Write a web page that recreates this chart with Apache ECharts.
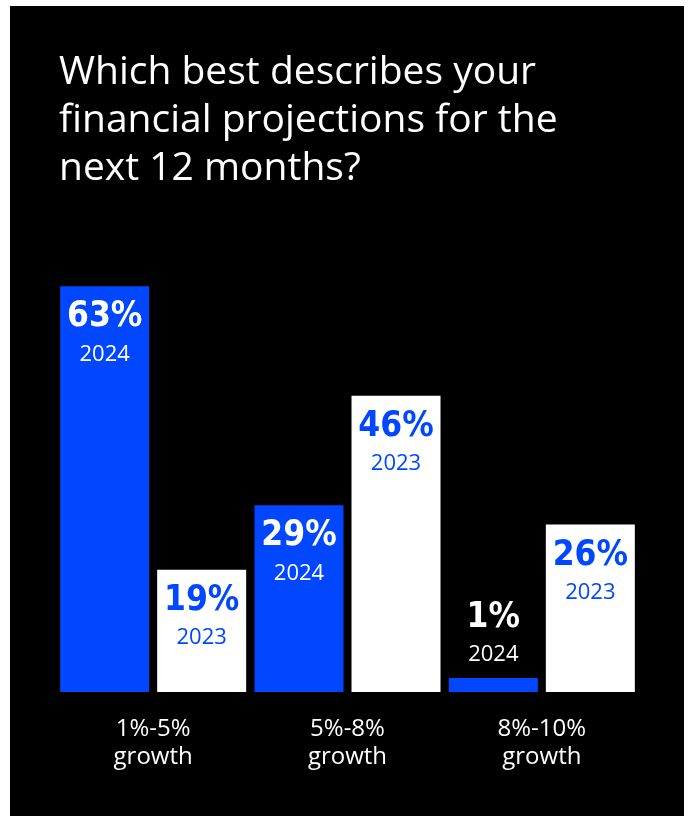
<!DOCTYPE html>
<html>
<head>
<meta charset="utf-8">
<script src="https://cdn.jsdelivr.net/npm/echarts@6/dist/echarts.min.js"></script>
<style>
  html, body { margin: 0; padding: 0; background: #fff; }
  #chart { width: 689px; height: 816px; }
</style>
</head>
<body>
<div id="chart"></div>
<script>
// Survey: expected revenue growth over the next 12 months
const titleText = 'Which best describes your\nfinancial projections for the\nnext 12 months?';
const categories = ['1%-5%\ngrowth', '5%-8%\ngrowth', '8%-10%\ngrowth'];
const years = ['2024', '2023'];
const values2024 = [63, 29, 1];
const values2023 = [19, 46, 26];

const BLUE = '#0047ff';
const pctFont = '"DejaVu Sans Condensed", sans-serif';
const bodyFont = '"Open Sans", sans-serif';

function labelFor(year, color) {
  return {
    show: true,
    position: 'insideTop',
    distance: 9,
    formatter: p => '{pct|' + p.value + '%}\n{yr|' + year + '}',
    rich: {
      pct: { fontFamily: pctFont, fontWeight: 'bold', fontSize: 35, lineHeight: 44, color: color, align: 'center' },
      yr: { fontFamily: bodyFont, fontSize: 22, lineHeight: 30, color: color, align: 'center' }
    }
  };
}

// Short bars cannot hold their label, so it sits above them in white
function buildData(values, year) {
  return values.map(v => v < 5
    ? { value: v, label: Object.assign(labelFor(year, '#fff'), { position: 'top', distance: 8 }) }
    : v);
}

const chart = echarts.init(document.getElementById('chart'), null, { renderer: 'canvas' });
chart.setOption({
  backgroundColor: '#fff',
  animation: false,
  graphic: [{
    type: 'rect', z: -10, silent: true,
    shape: { x: 10, y: 6, width: 674, height: 810 },
    style: { fill: '#000' }
  }],
  title: {
    text: titleText,
    left: 54, top: 44,
    textStyle: { color: '#fff', fontFamily: bodyFont, fontWeight: 'normal', fontSize: 39, lineHeight: 48 }
  },
  grid: { left: 56, right: 50, top: 48, bottom: 124 },
  xAxis: {
    type: 'category',
    data: categories,
    axisLine: { show: false },
    axisTick: { show: false },
    axisLabel: { color: '#fff', fontFamily: bodyFont, fontSize: 24, lineHeight: 28, margin: 23 }
  },
  yAxis: { type: 'value', min: 0, max: 100, show: false, splitLine: { show: false } },
  series: [
    {
      name: years[0], type: 'bar', data: buildData(values2024, years[0]),
      barWidth: 89, barGap: '9%', barMinHeight: 14,
      itemStyle: { color: BLUE },
      label: labelFor(years[0], '#fff')
    },
    {
      name: years[1], type: 'bar', data: buildData(values2023, years[1]),
      barWidth: 89, barMinHeight: 14,
      itemStyle: { color: '#fff' },
      label: labelFor(years[1], BLUE)
    }
  ]
});
</script>
</body>
</html>
